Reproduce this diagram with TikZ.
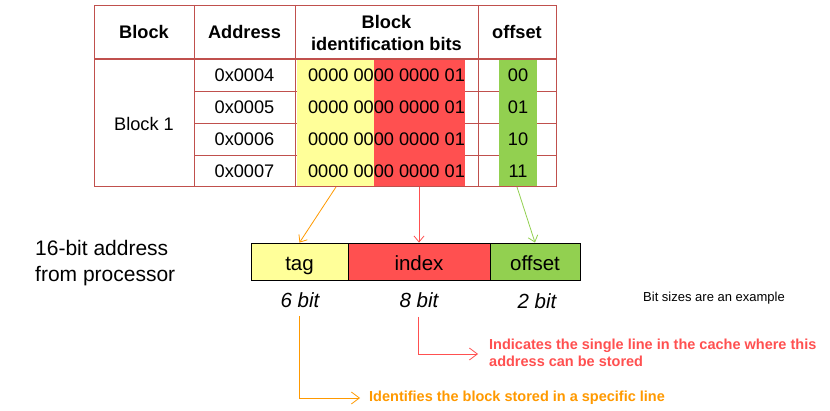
\documentclass[tikz,border=0pt]{standalone}
\usepackage{fontspec}
\setmainfont{Liberation Sans}
\usetikzlibrary{arrows.meta}
\definecolor{tline}{HTML}{C0504D}
\definecolor{cyel}{HTML}{FFFF99}
\definecolor{cred}{HTML}{FF5050}
\definecolor{cgrn}{HTML}{92D050}
\definecolor{corg}{HTML}{FF9900}
\begin{document}
\begin{tikzpicture}[x=1pt,y=-1pt,
  txt/.style={inner sep=0pt,font=\fontsize{18.2}{22}\selectfont},
  hdr/.style={inner sep=0pt,font=\fontsize{18.2}{22}\selectfont\bfseries,align=center},
  field/.style={draw=black,line width=0.8pt,minimum height=37pt,inner sep=0pt,text height=19pt,text depth=0pt,font=\fontsize{20.5}{24}\selectfont},
  bits/.style={inner sep=0pt,font=\fontsize{20.5}{24}\selectfont\itshape},
  note/.style={inner sep=0pt,font=\fontsize{14.5}{17.5}\selectfont\bfseries,align=left,anchor=west},
  tip/.style={-{Straight Barb[length=6pt,width=10pt]}},
  ltip/.style={-{Straight Barb[length=8pt,width=12pt]}},
  conn/.style={line width=0.8pt,tip}]
\useasboundingbox (0,0) rectangle (830,411);
% fills
\fill[cyel] (297,59) rectangle (374,186);
\fill[cred] (374,59) rectangle (465,186);
\fill[cgrn] (499,59) rectangle (537,186);
% grid
\begin{scope}[tline,line width=0.9pt]
\foreach \y in {91,123,155}{
  \draw (194,\y) -- (297,\y);
  \draw (465,\y) -- (499,\y);
  \draw (537,\y) -- (556,\y);
}
\draw (94,5) rectangle (556,186);
\foreach \x in {194,295,478}{\draw (\x,5) -- (\x,186);}
\draw[line width=2pt] (94,59) -- (556,59);
\end{scope}
% header
\node[hdr] (hblock) at (144,32) {Block};
\node[hdr] (haddr) at (244.5,32) {Address};
\node[hdr] (hbits) at (386.5,33) {Block\\identification bits};
\node[hdr] (hoff) at (517,32) {offset};
% body
\node[txt] (blk1) at (144,124) {Block 1};
\node[txt] (a4) at (244.5,75) {0x0004};
\node[txt] (a5) at (244.5,107) {0x0005};
\node[txt] (a6) at (244.5,139) {0x0006};
\node[txt] (a7) at (244.5,171) {0x0007};
\node[txt] (b4) at (386.5,75) {0000 0000 0000 01};
\node[txt] (b5) at (386.5,107) {0000 0000 0000 01};
\node[txt] (b6) at (386.5,139) {0000 0000 0000 01};
\node[txt] (b7) at (386.5,171) {0000 0000 0000 01};
\node[txt] (o4) at (518,75) {00};
\node[txt] (o5) at (518,107) {01};
\node[txt] (o6) at (518,139) {10};
\node[txt] (o7) at (518,171) {11};
% address fields
\node[field,fill=cyel,minimum width=97pt] (tag) at (299.5,261.5) {tag};
\node[field,fill=cred,minimum width=142pt] (index) at (419,261.5) {index};
\node[field,fill=cgrn,minimum width=90pt] (offset) at (535,261.5) {offset};
\node[bits] (b6bit) at (300,300) {6 bit};
\node[bits] (b8bit) at (419,300) {8 bit};
\node[bits] (b2bit) at (537,301) {2 bit};
\node[inner sep=0pt,font=\fontsize{13}{16}\selectfont,anchor=west] (sizes) at (643,298) {Bit sizes are an example};
\node[inner sep=0pt,font=\fontsize{21}{26}\selectfont,align=left,anchor=west] (proc) at (35,263) {16-bit address\\from processor};
% connectors from table
\coordinate (tS) at (336,187);
\coordinate (iS) at (419,187);
\coordinate (oS) at (517,187);
\draw[conn,corg] (tS) -- (tag.north);
\draw[conn,cred] (iS) -- (index.north);
\draw[conn,cgrn] (oS) -- (offset.north);
% notes
\node[note,text=cred] (inote) at (489,353) {Indicates the single line in the cache where this\\address can be stored};
\node[note,text=corg] (tnote) at (369,398) {Identifies the block stored in a specific line};
\coordinate (iT) at (418,317);
\coordinate (iE) at (478,354);
\coordinate (tT) at (299,316);
\coordinate (tE) at (360,398);
\draw[line width=0.8pt,cred,ltip] (iT) |- (iE);
\draw[line width=0.8pt,corg,ltip] (tT) |- (tE);
\end{tikzpicture}
\end{document}
